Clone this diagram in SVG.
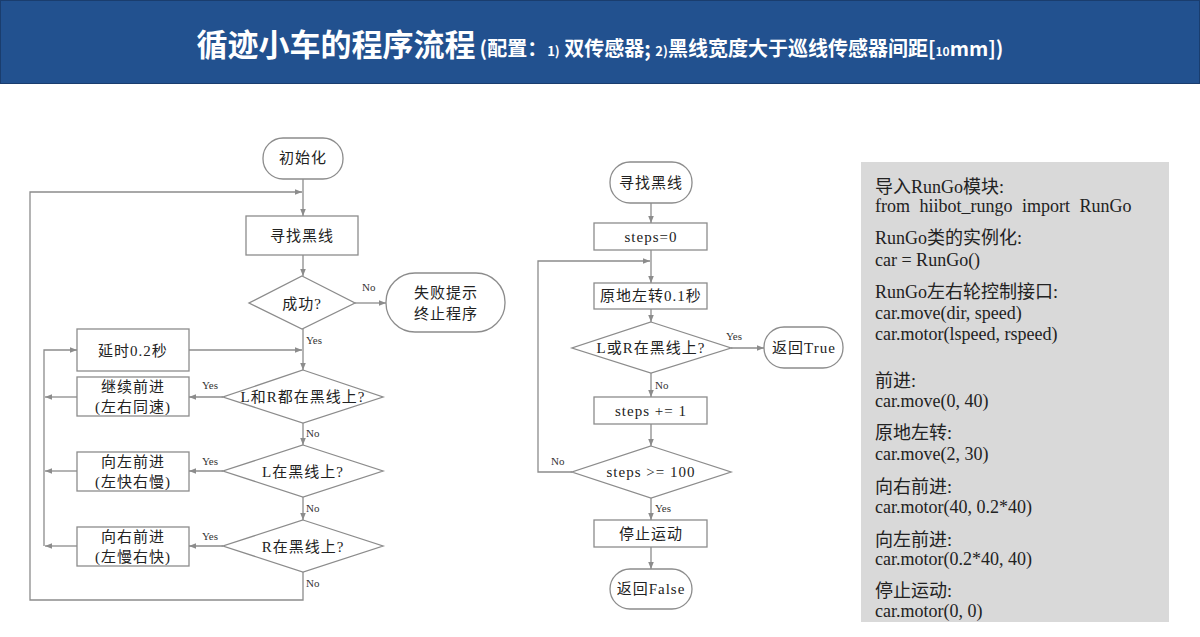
<svg xmlns="http://www.w3.org/2000/svg" width="1200" height="637" viewBox="0 0 1200 637">
<style>
.box{fill:#fff;stroke:#8c8c8c;stroke-width:1.3}
.t{font-family:"Liberation Serif","Noto Sans CJK SC",serif;font-size:15px;fill:#222;text-anchor:middle;dominant-baseline:central;letter-spacing:1px}
.lbl{font-family:"Liberation Serif",serif;font-size:11px;fill:#333}
.con{fill:none;stroke:#8c8c8c;stroke-width:1.3}
.code{font-family:"Liberation Serif","Noto Sans CJK SC",serif;font-size:18px;fill:#222}
</style>
<defs>
<marker id="ah" viewBox="0 0 10 10" refX="10" refY="5" markerWidth="7" markerHeight="7" orient="auto" markerUnits="userSpaceOnUse">
<path d="M0,1 L10,5 L0,9 Z" fill="#8c8c8c"/>
</marker>
</defs>
<rect width="1200" height="637" fill="#fff"/>
<g id="header">
<rect x="0.5" y="0.5" width="1199" height="83" fill="#22518f" stroke="#1a3d6e"/>
<text x="600" y="56" text-anchor="middle" font-family="Noto Sans CJK SC, sans-serif" font-weight="bold" fill="#fff"><tspan font-size="31">循迹小车的程序流程</tspan><tspan font-size="20" dx="4">(配置：</tspan><tspan font-size="13">1)</tspan><tspan font-size="20"> 双传感器; </tspan><tspan font-size="13">2)</tspan><tspan font-size="20">黑线宽度大于巡线传感器间距[</tspan><tspan font-size="12">10</tspan><tspan font-size="20">mm])</tspan></text>
</g>

<g id="connectors">
<path class="con" marker-end="url(#ah)" d="M303,179 V216"/>
<path class="con" marker-end="url(#ah)" d="M303,572 V600 H30 V192 H302"/>
<path class="con" marker-end="url(#ah)" d="M303,255 V276"/>
<path class="con" marker-end="url(#ah)" d="M355,303 H386"/>
<path class="con" marker-end="url(#ah)" d="M303,329 V370"/>
<path class="con" marker-end="url(#ah)" d="M189,350 H302"/>
<path class="con" marker-end="url(#ah)" d="M223,397 H189"/>
<path class="con" marker-end="url(#ah)" d="M77,397 H45"/>
<path class="con" marker-end="url(#ah)" d="M303,423 V445"/>
<path class="con" marker-end="url(#ah)" d="M223,471 H189"/>
<path class="con" marker-end="url(#ah)" d="M77,471 H45"/>
<path class="con" marker-end="url(#ah)" d="M303,497 V520"/>
<path class="con" marker-end="url(#ah)" d="M223,546 H189"/>
<path class="con" marker-end="url(#ah)" d="M77,546 H45"/>
<path class="con" marker-end="url(#ah)" d="M44,546 V350 H77"/>

<path class="con" marker-end="url(#ah)" d="M651,203 V223"/>
<path class="con" marker-end="url(#ah)" d="M651,250 V283"/>
<path class="con" marker-end="url(#ah)" d="M572,472 H538 V261 H650"/>
<path class="con" marker-end="url(#ah)" d="M651,309 V322"/>
<path class="con" marker-end="url(#ah)" d="M731,348 H764"/>
<path class="con" marker-end="url(#ah)" d="M651,373 V397"/>
<path class="con" marker-end="url(#ah)" d="M651,424 V446"/>
<path class="con" marker-end="url(#ah)" d="M651,498 V520"/>
<path class="con" marker-end="url(#ah)" d="M651,547 V569"/>

<text class="lbl" x="362" y="291">No</text>
<text class="lbl" x="306" y="344">Yes</text>
<text class="lbl" x="202" y="389">Yes</text>
<text class="lbl" x="306" y="437">No</text>
<text class="lbl" x="202" y="465">Yes</text>
<text class="lbl" x="306" y="512">No</text>
<text class="lbl" x="202" y="540">Yes</text>
<text class="lbl" x="306" y="587">No</text>
<text class="lbl" x="726" y="340">Yes</text>
<text class="lbl" x="655" y="389">No</text>
<text class="lbl" x="551" y="465">No</text>
<text class="lbl" x="655" y="512">Yes</text>
</g>

<g id="n_init"><rect class="box" x="263" y="138" width="80" height="41" rx="20"/><text class="t" x="303" y="158">初始化</text></g>
<g id="n_find"><rect class="box" x="246" y="216" width="112" height="39"/><text class="t" x="302" y="236">寻找黑线</text></g>
<g id="n_ok"><polygon class="box" points="302,276 355,303 302,329 249,303"/><text class="t" x="302" y="304">成功?</text></g>
<g id="n_fail"><rect class="box" x="386" y="273" width="119" height="59" rx="29"/><text class="t" x="446" y="293">失败提示</text><text class="t" x="446" y="314">终止程序</text></g>
<g id="n_delay"><rect class="box" x="77" y="329" width="112" height="42"/><text class="t" x="133" y="351">延时0.2秒</text></g>
<g id="n_fwd"><rect class="box" x="77" y="377" width="112" height="39"/><text class="t" x="133" y="387">继续前进</text><text class="t" x="133" y="407">(左右同速)</text></g>
<g id="n_both"><polygon class="box" points="303,370 383,397 303,423 223,397"/><text class="t" x="303" y="397" letter-spacing="0">L和R都在黑线上?</text></g>
<g id="n_left"><rect class="box" x="77" y="452" width="112" height="39"/><text class="t" x="133" y="462">向左前进</text><text class="t" x="133" y="482">(左快右慢)</text></g>
<g id="n_L"><polygon class="box" points="303,445 383,471 303,497 223,471"/><text class="t" x="303" y="472">L在黑线上?</text></g>
<g id="n_right"><rect class="box" x="77" y="527" width="112" height="39"/><text class="t" x="133" y="537">向右前进</text><text class="t" x="133" y="557">(左慢右快)</text></g>
<g id="n_R"><polygon class="box" points="303,520 383,546 303,572 223,546"/><text class="t" x="303" y="547">R在黑线上?</text></g>

<g id="m_start"><rect class="box" x="610" y="162" width="82" height="41" rx="20"/><text class="t" x="651" y="183">寻找黑线</text></g>
<g id="m_steps0"><rect class="box" x="594" y="223" width="113" height="27"/><text class="t" x="651" y="237" letter-spacing="0">steps=0</text></g>
<g id="m_turn"><rect class="box" x="594" y="283" width="113" height="26"/><text class="t" x="651" y="296" letter-spacing="0">原地左转0.1秒</text></g>
<g id="m_LR"><polygon class="box" points="651,322 731,348 651,373 572,348"/><text class="t" x="651" y="348" letter-spacing="0">L或R在黑线上?</text></g>
<g id="m_true"><rect class="box" x="764" y="327" width="79" height="41" rx="20"/><text class="t" x="804" y="348" letter-spacing="0">返回True</text></g>
<g id="m_inc"><rect class="box" x="594" y="397" width="113" height="27"/><text class="t" x="651" y="411" letter-spacing="0">steps += 1</text></g>
<g id="m_cmp"><polygon class="box" points="651,446 731,472 651,498 572,472"/><text class="t" x="651" y="472" letter-spacing="0">steps &gt;= 100</text></g>
<g id="m_stop"><rect class="box" x="594" y="520" width="113" height="27"/><text class="t" x="651" y="534">停止运动</text></g>
<g id="m_false"><rect class="box" x="610" y="569" width="82" height="40" rx="20"/><text class="t" x="651" y="589" letter-spacing="0">返回False</text></g>

<g id="code_panel">
<rect x="861" y="162" width="308" height="460" fill="#d9d9d9"/>
<text class="code" x="875" y="193">导入RunGo模块:</text>
<text class="code" x="875" y="212" word-spacing="5">from hiibot_rungo import RunGo</text>
<text class="code" x="875" y="244">RunGo类的实例化:</text>
<text class="code" x="875" y="266">car = RunGo()</text>
<text class="code" x="875" y="298">RunGo左右轮控制接口:</text>
<text class="code" x="875" y="319">car.move(dir, speed)</text>
<text class="code" x="875" y="340">car.motor(lspeed, rspeed)</text>
<text class="code" x="875" y="387">前进:</text>
<text class="code" x="875" y="407">car.move(0, 40)</text>
<text class="code" x="875" y="439">原地左转:</text>
<text class="code" x="875" y="460">car.move(2, 30)</text>
<text class="code" x="875" y="493">向右前进:</text>
<text class="code" x="875" y="513">car.motor(40, 0.2*40)</text>
<text class="code" x="875" y="546">向左前进:</text>
<text class="code" x="875" y="565">car.motor(0.2*40, 40)</text>
<text class="code" x="875" y="597">停止运动:</text>
<text class="code" x="875" y="617">car.motor(0, 0)</text>
</g>
</svg>
